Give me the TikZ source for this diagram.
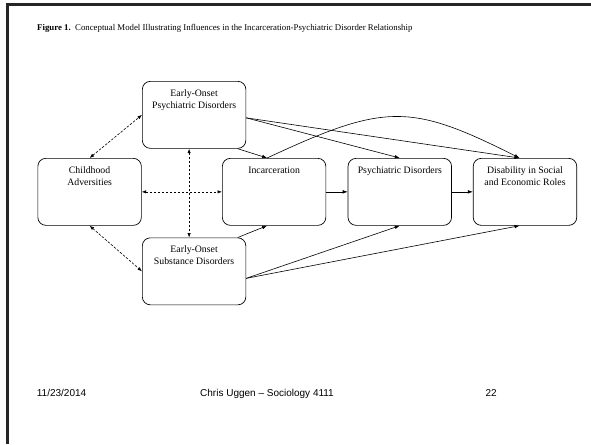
\documentclass[tikz,border=0pt]{standalone}
\usepackage{fontspec}
\setmainfont{Liberation Serif}
\newfontfamily\footfont{Liberation Sans}
\usetikzlibrary{positioning,arrows.meta}

% box text sits at the top of each box
\newcommand{\boxlabel}[1]{\parbox[c][67pt][t]{100pt}{\centering\rule{0pt}{15pt}#1}}

\begin{document}
\begin{tikzpicture}[x=1pt,y=-1pt,
  concept/.style={draw,line width=0.7pt,rounded corners=8pt,minimum width=103.5pt,minimum height=67pt,inner sep=0pt,anchor=north west,font=\fontsize{9.8}{11.7}\selectfont},
  cause/.style={line width=0.6pt,-{Latex[length=5pt,width=3.6pt]}},
  assoc/.style={line width=0.6pt,dash pattern=on 2.5pt off 1.5pt,{Latex[length=4.5pt,width=3.4pt]}-{Latex[length=4.5pt,width=3.4pt]}},
  foot/.style={inner sep=0pt,font=\footfont\fontsize{10}{12}\selectfont}]
\fill[white] (0,0) rectangle (591,444);
\useasboundingbox (0,0) rectangle (591,444);
% slide frame
\fill[black!85] (6,3.3) rectangle (591,5.8);
\fill[black!85] (6,3.3) rectangle (9,444);
\node[anchor=base west,inner sep=0pt,font=\fontsize{8.8}{10}\selectfont] (title) at (37,31) {\textbf{Figure 1.}\ \ Conceptual Model Illustrating Influences in the Incarceration-Psychiatric Disorder Relationship};
% boxes
\node[concept] (eop) at (142,81) {\boxlabel{Early-Onset\\Psychiatric Disorders}};
\node[concept] (child) at (37.5,158) {\boxlabel{Childhood\\Adversities}};
\node[concept] (inc) at (222,158) {\boxlabel{Incarceration}};
\node[concept] (eos) at (142,237.5) {\boxlabel{Early-Onset\\Substance Disorders}};
\node[concept,right=21.5pt of inc] (pd) {\boxlabel{Psychiatric Disorders}};
\node[concept,right=21pt of pd] (dis) {\boxlabel{Disability in Social\\and Economic Roles}};
% associations
\draw[assoc] (child.north) -- (eop.west);
\draw[assoc] (child.south) -- (eos.west);
\draw[assoc] (child.east) -- (inc.west);
\draw[assoc] ([xshift=-5pt]eop.south) -- ([xshift=-5pt]eos.north);
% paths
\draw[cause] ([yshift=-3pt]eop.east) -- (pd.north);
\draw[cause] ([yshift=-3pt]eop.east) -- ([xshift=-5.5pt]dis.north);
\draw[cause] ([xshift=-8.5pt]eop.south east) -- ([xshift=-7pt]inc.north);
\draw[cause] ([xshift=-7pt]inc.north) .. controls (385,103) and (410,103) .. ([xshift=-5.5pt]dis.north);
\draw[cause] (inc.east) -- (pd.west);
\draw[cause] (pd.east) -- (dis.west);
\draw[cause] ([xshift=-8.5pt]eos.north east) -- ([xshift=-7pt]inc.south);
\draw[cause] ([yshift=-7pt]eos.east) -- (pd.south);
\draw[cause] ([yshift=-7pt]eos.east) -- ([xshift=-5.5pt]dis.south);
% footer
\node[foot,anchor=base west] (date) at (36.7,396.5) {11/23/2014};
\node[foot,anchor=base] (course) at (267,396.5) {Chris Uggen – Sociology 4111};
\node[foot,anchor=base east] (page) at (497,396.5) {22};
\end{tikzpicture}
\end{document}
